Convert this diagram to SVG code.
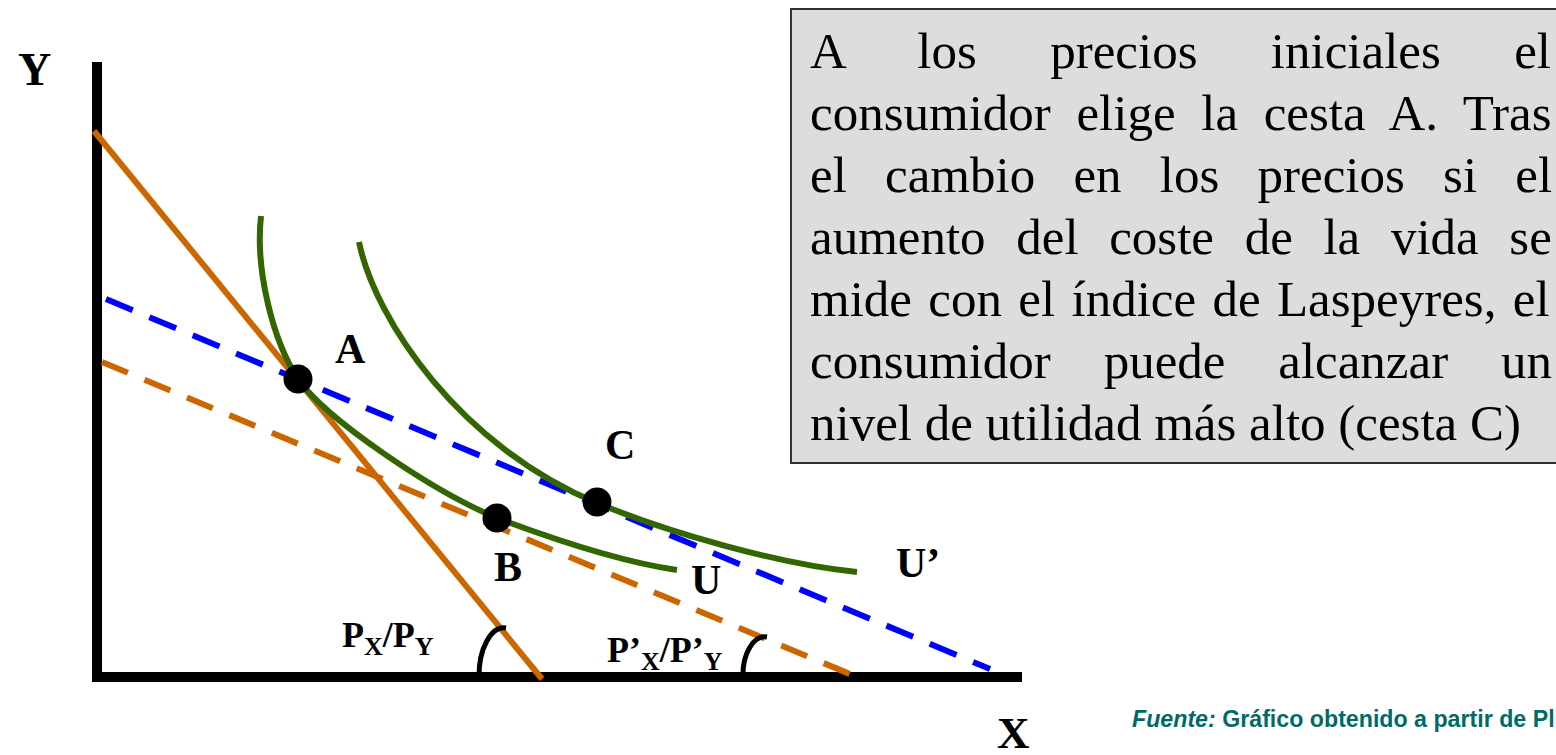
<svg xmlns="http://www.w3.org/2000/svg" width="1556" height="755" viewBox="0 0 1556 755">
<style>
.lbl{font-family:"Liberation Serif","Times New Roman",serif;font-weight:bold;fill:#000}
.box{font-family:"Liberation Serif","Times New Roman",serif;font-size:51px;fill:#000}
.green{fill:none;stroke:#336600;stroke-width:6}
.dot{fill:#000}
</style>
<rect width="1556" height="755" fill="#fff"/>
<g id="textbox">
<rect x="791" y="9" width="800" height="454" fill="#DDDDDD" stroke="#333" stroke-width="2"/>
<text class="box" x="810" y="68" word-spacing="60.6">A los precios iniciales el</text>
<text class="box" x="810" y="130" word-spacing="12.9">consumidor elige la cesta A. Tras</text>
<text class="box" x="810" y="192" word-spacing="25.5">el cambio en los precios si el</text>
<text class="box" x="810" y="254" word-spacing="17.9">aumento del coste de la vida se</text>
<text class="box" x="810" y="316" word-spacing="3.6">mide con el índice de Laspeyres, el</text>
<text class="box" x="810" y="378" word-spacing="40.1">consumidor puede alcanzar un</text>
<text class="box" x="810" y="440">nivel de utilidad más alto (cesta C)</text>
</g>
<g id="axes" stroke="#000" stroke-width="10" fill="none">
<line x1="97" y1="62" x2="97" y2="682"/>
<line x1="92" y1="677" x2="1022" y2="677"/>
</g>
<g id="connectors" fill="none">
<line x1="94" y1="131" x2="542" y2="679" stroke="#CC6600" stroke-width="6"/>
<line x1="102" y1="362" x2="857" y2="677" stroke="#CC6600" stroke-width="6" stroke-dasharray="28 18"/>
<line x1="106" y1="299" x2="990" y2="669" stroke="#0000FF" stroke-width="6" stroke-dasharray="29 18"/>
<path d="M479,677 A25 48 0 0 1 506 628" stroke="#000" stroke-width="5"/>
<path d="M743,677 A22 38 0 0 1 767 637" stroke="#000" stroke-width="5"/>
</g>
<g id="curve-U">
<path class="green" d="M261,216 C255,270 273,341 298,379 C325,418 430,490 497,518 C550,538 622,562 677,570"/>
</g>
<g id="curve-U2">
<path class="green" d="M359,242 C375,320 460,446 597,503 C667,532 777,564 857,572"/>
</g>
<g id="point-A"><circle class="dot" cx="298" cy="379" r="14.5"/><text class="lbl" x="335" y="363" font-size="42">A</text></g>
<g id="point-B"><circle class="dot" cx="497" cy="518" r="14.5"/><text class="lbl" x="494" y="581" font-size="42">B</text></g>
<g id="point-C"><circle class="dot" cx="597" cy="502" r="14.5"/><text class="lbl" x="605" y="459" font-size="42">C</text></g>
<g id="labels">
<text class="lbl" x="18" y="85" font-size="46">Y</text>
<text class="lbl" x="997" y="748" font-size="45">X</text>
<text class="lbl" x="691" y="594" font-size="42">U</text>
<text class="lbl" x="896" y="577" font-size="42">U’</text>
<text class="lbl" x="342" y="647" font-size="36">P<tspan font-size="26" dy="8">X</tspan><tspan dy="-8">/P</tspan><tspan font-size="26" dy="8">Y</tspan></text>
<text class="lbl" x="607" y="662" font-size="36">P’<tspan font-size="26" dy="8">X</tspan><tspan dy="-8">/P’</tspan><tspan font-size="26" dy="8">Y</tspan></text>
</g>
<g id="source">
<text x="1132" y="727" font-family="Liberation Sans,Arial,sans-serif" font-size="23.2" font-weight="bold" fill="#006B66"><tspan font-style="italic">Fuente:</tspan> Gráfico obtenido a partir de Pl</text>
</g>
</svg>
